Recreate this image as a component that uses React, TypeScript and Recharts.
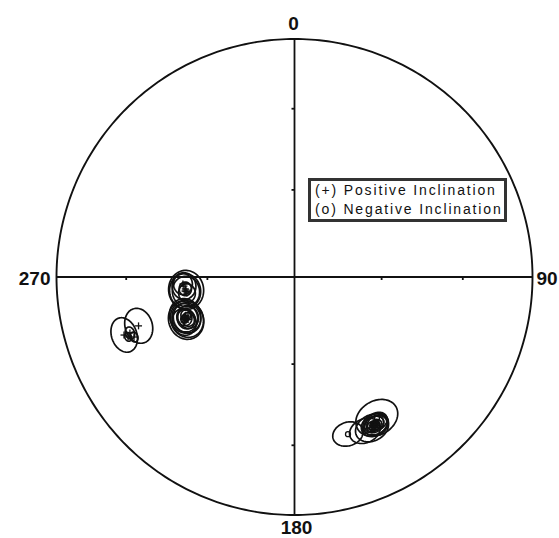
import React from 'react';
import { ScatterChart, Scatter, XAxis, YAxis, ReferenceLine, Legend } from 'recharts';

const W = 559;
const H = 538;

// Positive inclination site means: declination (deg), inclination (deg), alpha95 (deg)
const posDec = [263.2, 262.7, 265.3, 261.5, 266.4, 263.8, 262.4,
  248.4, 250.4, 249.1, 247.8, 249.4, 248.8, 249.9, 248.2, 250.6, 249.0, 248.6, 249.6,
  251.2, 252.6, 251.2, 249.5, 250.2];
const posInc = [52.1, 51.7, 51.5, 52.3, 51.2, 51.9, 52.0,
  49.4, 49.6, 50.0, 48.5, 50.5, 49.6, 49.2, 50.2, 49.9, 48.9, 49.8, 49.3,
  25.3, 31.9, 27.8, 28.8, 26.6];
const posA95 = [6.3, 5.6, 4.3, 3.0, 3.4, 2.2, 4.9,
  6.3, 5.6, 4.9, 4.3, 3.7, 3.2, 2.7, 2.2, 1.7, 1.2, 5.9, 4.6,
  5.1, 5.3, 1.8, 1.5, 1.3];

// Negative inclination site means
const negDec = [149.7, 152.8, 151.5, 151.4, 151.6, 151.0, 152.2, 161.2, 155.4, 150.8, 151.9, 151.2, 150.4];
const negInc = [-31.9, -29.4, -29.9, -29.7, -30.2, -30.5, -29.8, -30.9, -29.6, -30.0, -30.3, -30.1, -30.8];
const negA95 = [6.6, 5.1, 4.2, 3.6, 3.0, 2.5, 2.0, 4.6, 4.7, 1.5, 1.1, 3.9, 3.3];

// Reference ticks (inclination) and cardinal labels
const tickIncs = [30, 60];
const cardinalAz = [0, 90, 180, 270];
const cardinalLabels = ['0', '90', '180', '270'];

const legendLines = ['(+) Positive Inclination', '(o) Negative Inclination'];

const D2R = Math.PI / 180;

// Equal-area (Schmidt) projection, unit radius
function project(dec: number, inc: number) {
  const r = Math.SQRT2 * Math.sin(((90 - Math.abs(inc)) * D2R) / 2);
  return { x: r * Math.sin(dec * D2R), y: r * Math.cos(dec * D2R) };
}

function confidenceCircle(dec: number, inc: number, a95: number, n = 90) {
  const D = dec * D2R;
  const I = inc * D2R;
  const a = a95 * D2R;
  const u = [Math.cos(I) * Math.cos(D), Math.cos(I) * Math.sin(D), Math.sin(I)];
  const v = [-Math.sin(D), Math.cos(D), 0];
  const w = [
    u[1] * v[2] - u[2] * v[1],
    u[2] * v[0] - u[0] * v[2],
    u[0] * v[1] - u[1] * v[0],
  ];
  const pts: { x: number; y: number }[] = [];
  for (let k = 0; k <= n; k++) {
    const t = (2 * Math.PI * k) / n;
    const p = [0, 1, 2].map(
      (i) => Math.cos(a) * u[i] + Math.sin(a) * (Math.cos(t) * v[i] + Math.sin(t) * w[i])
    );
    const inc2 = Math.asin(Math.max(-1, Math.min(1, p[2]))) / D2R;
    const dec2 = Math.atan2(p[1], p[0]) / D2R;
    pts.push(project(dec2, inc2));
  }
  return pts;
}

const primitive = Array.from({ length: 361 }, (_, i) => project(i, 0));

const posCircles = posDec.map((d, i) => confidenceCircle(d, posInc[i], posA95[i]));
const negCircles = negDec.map((d, i) => confidenceCircle(d, negInc[i], negA95[i]));

const posPoints = posDec.map((d, i) => ({ ...project(d, posInc[i]) }));
const negPoints = negDec.map((d, i) => ({ ...project(d, negInc[i]) }));

const tickPoints = tickIncs.flatMap((inc) =>
  cardinalAz.map((az) => ({ ...project(az, inc), az }))
);

const labelPoints = cardinalAz.map((az, i) => ({ ...project(az, 0), az, label: cardinalLabels[i] }));

const INK = '#111';

const Empty = () => <g />;

const PlusShape = (p: any) => (
  <g>
    <line x1={p.cx - 3.5} y1={p.cy} x2={p.cx + 3.5} y2={p.cy} stroke={INK} strokeWidth={1.3} />
    <line x1={p.cx} y1={p.cy - 3.5} x2={p.cx} y2={p.cy + 3.5} stroke={INK} strokeWidth={1.3} />
  </g>
);

const CircleShape = (p: any) => (
  <circle cx={p.cx} cy={p.cy} r={2.5} fill="none" stroke={INK} strokeWidth={1.3} />
);

const TickShape = (p: any) => {
  const az = p.payload.az;
  if (az === 0 || az === 180) {
    return <line x1={p.cx - 3} y1={p.cy} x2={p.cx} y2={p.cy} stroke={INK} strokeWidth={1.8} />;
  }
  return <line x1={p.cx} y1={p.cy} x2={p.cx} y2={p.cy + 3} stroke={INK} strokeWidth={1.8} />;
};

const LabelShape = (p: any) => {
  const az = p.payload.az;
  let x = p.cx;
  let y = p.cy;
  let anchor: 'middle' | 'start' | 'end' = 'middle';
  if (az === 0) {
    x -= 1;
    y -= 9;
  } else if (az === 90) {
    x += 4;
    y += 8;
    anchor = 'start';
  } else if (az === 180) {
    x += 2;
    y += 19;
  } else {
    x -= 6;
    y += 8;
    anchor = 'end';
  }
  return (
    <text x={x} y={y} textAnchor={anchor} fontSize={19} fontWeight="bold" fill={INK}
      fontFamily="'Liberation Sans', Arial, sans-serif">
      {p.payload.label}
    </text>
  );
};

const LegendBox = () => (
  <div
    style={{
      boxSizing: 'border-box',
      width: 199,
      height: 44,
      border: '3px solid #333',
      background: '#fff',
      paddingLeft: 4,
      fontFamily: "'Liberation Sans', Arial, sans-serif",
      fontSize: 14,
      lineHeight: '19px',
      letterSpacing: '1.85px',
      color: '#111',
      whiteSpace: 'nowrap',
      textAlign: 'left',
      overflow: 'hidden',
    }}
  >
    {legendLines.map((t) => (
      <div key={t}>{t}</div>
    ))}
  </div>
);

export default function App() {
  return (
    <div style={{ position: 'absolute', left: 0, top: 0, width: W, height: H, background: '#fff' }}>
      <ScatterChart
        width={W}
        height={H}
        margin={{ top: 39, right: 26.5, bottom: 23, left: 56.5 }}
      >
        <XAxis type="number" dataKey="x" domain={[-1, 1]} hide />
        <YAxis type="number" dataKey="y" domain={[-1, 1]} hide />
        <ReferenceLine x={0} stroke={INK} strokeWidth={1.8} />
        <ReferenceLine y={0} stroke={INK} strokeWidth={1.8} />
        <Scatter
          data={primitive}
          line={{ stroke: INK, strokeWidth: 1.9 }}
          shape={Empty}
          fill="none"
          isAnimationActive={false}
        />
        <Scatter data={tickPoints} shape={TickShape} isAnimationActive={false} />
        {posCircles.map((c, i) => (
          <Scatter
            key={'p' + i}
            data={c}
            line={{ stroke: INK, strokeWidth: 1.7 }}
            shape={Empty}
            fill="none"
            isAnimationActive={false}
          />
        ))}
        {negCircles.map((c, i) => (
          <Scatter
            key={'n' + i}
            data={c}
            line={{ stroke: INK, strokeWidth: 1.7 }}
            shape={Empty}
            fill="none"
            isAnimationActive={false}
          />
        ))}
        <Scatter data={posPoints} shape={PlusShape} isAnimationActive={false} />
        <Scatter data={negPoints} shape={CircleShape} isAnimationActive={false} />
        <Scatter data={labelPoints} shape={LabelShape} isAnimationActive={false} />
        <Legend
          verticalAlign="middle"
          align="center"
          layout="horizontal"
          content={LegendBox}
          wrapperStyle={{ position: 'absolute', left: 308, top: 178, width: 199, height: 44 }}
        />
      </ScatterChart>
    </div>
  );
}
